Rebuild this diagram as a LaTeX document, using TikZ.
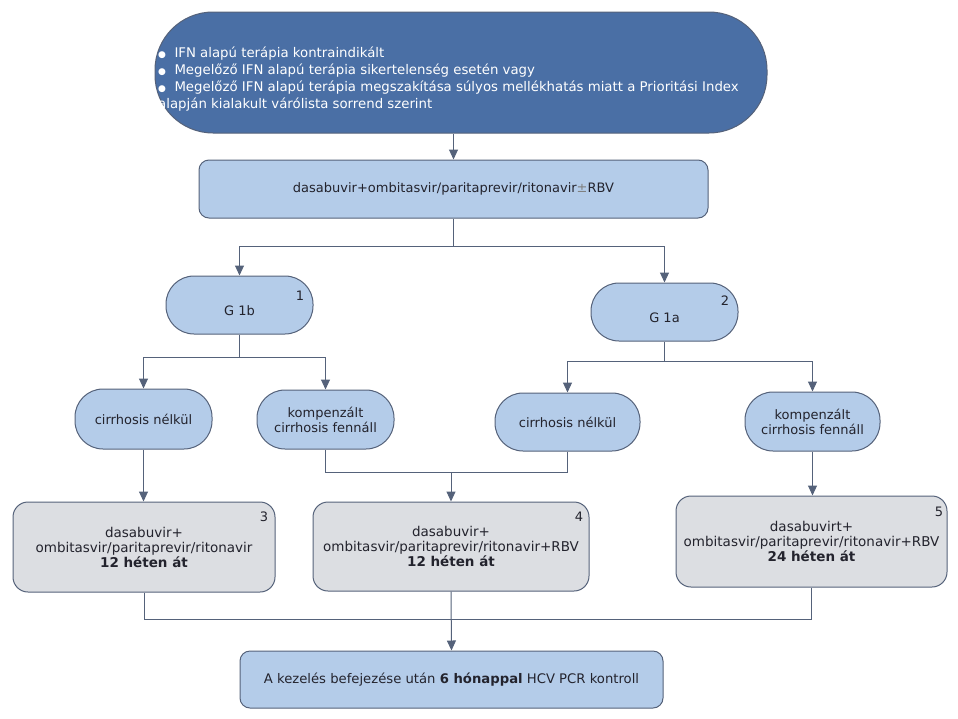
\documentclass[tikz,border=0pt]{standalone}
\usepackage{fontspec}
\setmainfont{DejaVu Sans}
\usetikzlibrary{arrows.meta}
\definecolor{dkblue}{RGB}{74,111,165}
\definecolor{ltblue}{RGB}{180,204,233}
\definecolor{gbox}{RGB}{220,222,226}
\definecolor{edgec}{RGB}{85,98,122}
\definecolor{txtc}{RGB}{35,35,45}
\tikzset{
  base/.style={draw=edgec, line width=1pt, text=txtc, inner sep=0pt, align=center,
    font=\fontsize{13}{15}\selectfont},
  topbox/.style={base, fill=dkblue, rounded corners=58pt},
  bluebox/.style={base, fill=ltblue, rounded corners=10pt},
  pill/.style={base, fill=ltblue, rounded corners=28pt},
  graybox/.style={base, fill=gbox, rounded corners=15pt, font=\fontsize{13.5}{15}\selectfont},
  numlbl/.style={inner sep=0pt, text=txtc, font=\fontsize{13}{15}\selectfont},
  conn/.style={draw=edgec, line width=1pt},
  arr/.style={conn, -{Triangle[width=9pt,length=10pt]}},
  lowtext/.style={text height=23pt, text depth=3pt},
}
\newcommand{\bul}{{\fontsize{9}{9}\selectfont ●}}
\begin{document}
\begin{tikzpicture}[x=1pt,y=-1pt]
\useasboundingbox (0,0) rectangle (958,718);
% top
\node[topbox, minimum width=612pt, minimum height=121pt] (top) at (461,72.5) {};
\node[inner sep=0pt, anchor=west, align=left, text=white,
      font=\fontsize{13.3}{17}\selectfont] (toptext) at (158,79.5)
  {\bul\ \ IFN alapú terápia kontraindikált\\
   \bul\ \ Megelőző IFN alapú terápia sikertelenség esetén vagy\\
   \bul\ \ Megelőző IFN alapú terápia megszakítása súlyos mellékhatás miatt a Prioritási Index\\
   alapján kialakult várólista sorrend szerint};
% box 2
\node[bluebox, minimum width=509pt, minimum height=58pt] (box2) at (453.5,189)
  {dasabuvir+ombitasvir/paritaprevir/ritonavir{\color{gray}±}RBV};
% genotypes
\node[pill, lowtext, minimum width=147pt, minimum height=58pt] (g1b) at (239.5,305) {G 1b};
\node[pill, lowtext, minimum width=147pt, minimum height=58pt] (g1a) at (664.5,312) {G 1a};
\node[numlbl] (n1) at (300,296) {1};
\node[numlbl] (n2) at (725,301) {2};
% cirrhosis
\node[pill, minimum width=137pt, minimum height=60pt] (cn1) at (143.5,419) {cirrhosis nélkül};
\node[pill, minimum width=137pt, minimum height=59pt] (kc1) at (325.5,419.5) {kompenzált\\cirrhosis fennáll};
\node[pill, minimum width=145pt, minimum height=58pt] (cn2) at (567.5,422) {cirrhosis nélkül};
\node[pill, minimum width=135pt, minimum height=59pt] (kc2) at (812.5,421.5) {kompenzált\\cirrhosis fennáll};
% therapy boxes
\node[graybox, minimum width=262pt, minimum height=90pt] (b3) at (144,547)
  {dasabuvir+\\ombitasvir/paritaprevir/ritonavir\\\textbf{12 héten át}};
\node[graybox, minimum width=276pt, minimum height=89pt] (b4) at (451,546.5)
  {dasabuvir+\\ombitasvir/paritaprevir/ritonavir+RBV\\\textbf{12 héten át}};
\node[graybox, minimum width=271pt, minimum height=91pt] (b5) at (811.5,541.5)
  {dasabuvirt+\\ombitasvir/paritaprevir/ritonavir+RBV\\\textbf{24 héten át}};
\node[numlbl] (n3) at (264,517) {3};
\node[numlbl] (n4) at (579,517) {4};
\node[numlbl] (n5) at (939,512) {5};
% final
\node[bluebox, minimum width=423pt, minimum height=57pt, font=\fontsize{13.2}{15}\selectfont] (final) at (451.5,679.5)
  {A kezelés befejezése után \textbf{6 hónappal} HCV PCR kontroll};
% connectors
\draw[arr] (box2.north |- top.south) -- (box2.north);
\draw[conn] (box2.south) -- ++(0,28) coordinate (j1);
\draw[arr] (j1) -| (g1b.north);
\draw[arr] (j1) -| (g1a.north);
\draw[conn] (g1b.south) -- ++(0,23) coordinate (j2);
\draw[arr] (j2) -| (cn1.north);
\draw[arr] (j2) -| (kc1.north);
\draw[conn] (g1a.south) -- ++(0,20) coordinate (j3);
\draw[arr] (j3) -| (cn2.north);
\draw[arr] (j3) -| (kc2.north);
\draw[arr] (cn1.south) -- (cn1.south |- b3.north);
\coordinate (j4) at (451,472);
\draw[conn] (kc1.south) |- (j4);
\draw[conn] (cn2.south) |- (j4);
\draw[arr] (j4) -- (b4.north);
\draw[arr] (kc2.south) -- (kc2.south |- b5.north);
\coordinate (j5) at (451,619);
\draw[conn] (b3.south) |- (j5);
\draw[conn] (b5.south) |- (j5);
\draw[arr] (b4.south) -- (final.north);
\end{tikzpicture}
\end{document}
